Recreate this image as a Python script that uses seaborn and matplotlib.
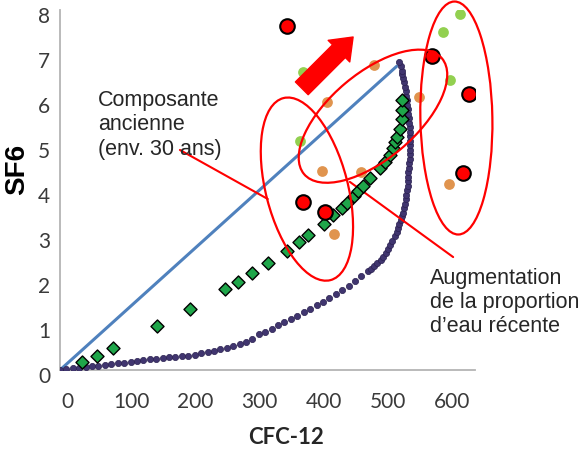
import numpy as np
import pandas as pd
import seaborn as sns
import matplotlib.pyplot as plt
from matplotlib.patches import Ellipse
from matplotlib.transforms import ScaledTranslation

# courbe de melange (points violets)
mix_cfc = [0, 10, 20, 30, 40, 50, 60, 70, 80, 90, 100, 110, 120, 130, 140, 150, 160,
           170, 180, 190, 200, 210, 220, 230, 240, 250, 260, 270, 280, 290, 300, 310,
           320, 330, 340, 350, 360, 370, 380, 390, 400, 410, 420, 430, 440, 450, 460,
           470, 480, 485, 490, 495, 500, 504, 508, 511, 515, 518, 522, 525, 527, 529,
           531, 533, 535, 537, 538, 539, 540, 541, 542, 542, 543, 543, 544, 544, 545,
           545, 546, 546, 546, 546, 545, 545, 544, 544, 543, 542, 541, 541, 540, 539,
           538, 537, 535, 534, 533, 531, 529]
mix_sf6 = [0.00, 0.02, 0.04, 0.05, 0.07, 0.08, 0.10, 0.11, 0.13, 0.15, 0.16, 0.18, 0.20,
           0.22, 0.24, 0.25, 0.26, 0.28, 0.29, 0.31, 0.32, 0.34, 0.37, 0.40, 0.43, 0.46,
           0.49, 0.53, 0.57, 0.62, 0.70, 0.79, 0.85, 0.92, 0.99, 1.06, 1.13, 1.20, 1.28,
           1.36, 1.44, 1.52, 1.60, 1.69, 1.78, 1.87, 1.97, 2.08, 2.19, 2.25, 2.31, 2.37,
           2.44, 2.52, 2.60, 2.69, 2.78, 2.87, 2.97, 3.06, 3.15, 3.24, 3.33, 3.42, 3.50,
           3.60, 3.70, 3.80, 3.90, 4.00, 4.10, 4.20, 4.30, 4.40, 4.50, 4.60, 4.70, 4.80,
           4.90, 5.00, 5.10, 5.20, 5.30, 5.40, 5.50, 5.60, 5.70, 5.80, 5.90, 6.00, 6.10,
           6.20, 6.30, 6.40, 6.50, 6.58, 6.65, 6.75, 6.85]

# modele piston (losanges verts)
piston_cfc = [35, 58, 83, 152, 203, 258, 278, 299, 325, 354, 373, 387, 411, 426, 439,
              447, 458, 465, 473, 484, 499, 506, 514, 519, 523, 526, 530, 533, 534, 534]
piston_sf6 = [0.18, 0.31, 0.50, 0.98, 1.36, 1.79, 1.96, 2.15, 2.37, 2.65, 2.85, 3.00,
              3.24, 3.44, 3.60, 3.72, 3.87, 3.98, 4.10, 4.26, 4.48, 4.62, 4.78, 4.94,
              5.06, 5.18, 5.36, 5.58, 5.78, 6.00]

# droite de dilution
line_cfc = [0, 525]
line_sf6 = [0, 6.75]

# echantillons
red_cfc = [354, 379, 413, 580, 638, 629]
red_sf6 = [7.65, 3.74, 3.52, 6.98, 6.13, 4.37]
lgreen_cfc = [379, 374, 623, 597, 608]
lgreen_sf6 = [6.63, 5.08, 7.91, 7.52, 6.44]
orange_cfc = [417, 408, 427, 489, 469, 560, 606]
orange_sf6 = [5.96, 4.43, 3.03, 6.78, 4.39, 6.07, 4.13]

x_ticks = [0, 100, 200, 300, 400, 500, 600]
y_ticks = [0, 1, 2, 3, 4, 5, 6, 7, 8]

sns.set_style('white')
plt.rcParams['font.family'] = ['Lato', 'DejaVu Sans']

fig = plt.figure(figsize=(5.84, 4.53), dpi=100)
ax = fig.add_axes([0.1027, 0.1832, 0.7106, 0.7947])

sns.lineplot(x=line_cfc, y=line_sf6, sort=False, color='#4f81bd', lw=2.2, ax=ax, zorder=2)
sns.scatterplot(x=mix_cfc, y=mix_sf6, color='#40356f', edgecolor='#2a2050', s=20,
                linewidth=0.5, ax=ax, zorder=3)
sns.scatterplot(x=piston_cfc, y=piston_sf6, marker='D', color='#1fa64a', edgecolor='black',
                s=44, linewidth=1.0, ax=ax, zorder=4)
sns.scatterplot(x=orange_cfc, y=orange_sf6, color='#e0944e', s=60, linewidth=0, ax=ax, zorder=5)
sns.scatterplot(x=lgreen_cfc, y=lgreen_sf6, color='#92d050', s=60, linewidth=0, ax=ax, zorder=5)
sns.scatterplot(x=red_cfc, y=red_sf6, color='#ff0000', edgecolor='black', s=110,
                linewidth=1.5, ax=ax, zorder=6)

ax.set_xlim(0, 647)
ax.set_ylim(0, 8)
ax.set_xticks(x_ticks)
ax.set_yticks(y_ticks)
sns.despine(ax=ax)
for s in ['left', 'bottom']:
    ax.spines[s].set_color('#b4b4b4')
    ax.spines[s].set_linewidth(1.3)
ax.tick_params(axis='both', direction='out', length=4, width=1, color='#b4b4b4',
               labelsize=15, labelcolor='#3a3a3a', pad=3)
ax.tick_params(axis='x', pad=12)
for lab in ax.get_xticklabels():
    lab.set_transform(lab.get_transform() + ScaledTranslation(0.07, 0, fig.dpi_scale_trans))
for lab in ax.get_yticklabels():
    lab.set_transform(lab.get_transform() + ScaledTranslation(0, -0.05, fig.dpi_scale_trans))

ax.set_xlabel('CFC-12', fontsize=16, fontweight='bold', color='#262626')
ax.xaxis.set_label_coords(0.545, -0.158)
ax.set_ylabel('SF6', fontsize=20, fontweight='bold', family='Liberation Sans', color='black')
ax.yaxis.label.set_va('center')
ax.yaxis.set_label_coords(-0.104, 0.556)

# ellipses rouges (taille en pixels)
ellipses = [((385, 4.02), 188, 82, -75.5), ((488, 5.64), 180, 86, 40), ((618, 5.6), 233, 72, 91)]
for (cx, cy), w, h, ang in ellipses:
    tr = fig.dpi_scale_trans + ScaledTranslation(cx, cy, ax.transData)
    ax.add_patch(Ellipse((0, 0), w / 100, h / 100, angle=ang, transform=tr, fill=False,
                         edgecolor='#ff0000', lw=1.6, zorder=7, clip_on=False))

# fleche
ax.annotate('', xy=(457, 7.4), xytext=(377, 6.26),
            arrowprops=dict(arrowstyle='simple,head_length=0.72,head_width=1.1,tail_width=0.65',
                            color='#ff0000', mutation_scale=20, shrinkA=0, shrinkB=0), zorder=8)

# textes et traits de rappel
ax.text(59, 6.22, 'Composante\nancienne\n(env. 30 ans)', va='top', ha='left', fontsize=15.5,
        family='Liberation Sans', linespacing=1.2, zorder=9)
ax.annotate('', xy=(324, 3.8), xytext=(187, 4.89),
            arrowprops=dict(arrowstyle='-', color='#ff0000', lw=1.5, shrinkA=0, shrinkB=0))
ax.text(577, 2.27, 'Augmentation\nde la proportion\nd\u2019eau récente', va='top', ha='left',
        fontsize=15.5, family='Liberation Sans', linespacing=1.2, zorder=9)
ax.annotate('', xy=(452, 4.18), xytext=(613, 2.51),
            arrowprops=dict(arrowstyle='-', color='#ff0000', lw=1.5, shrinkA=0, shrinkB=0))

fig.savefig('out.png', dpi=100)
